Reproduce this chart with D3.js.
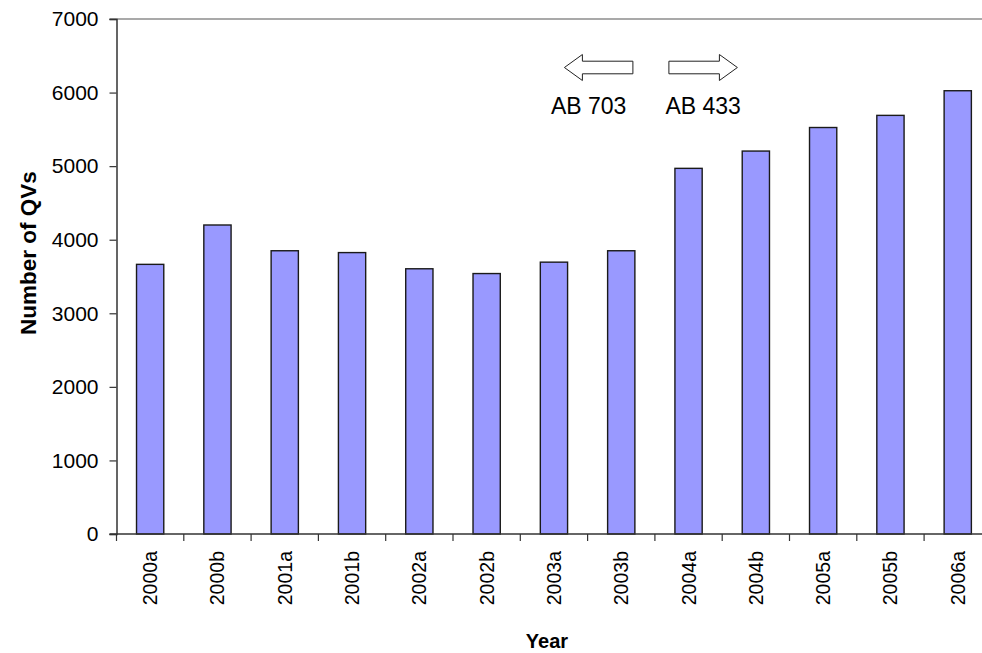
<!DOCTYPE html>
<html>
<head>
<meta charset="utf-8">
<script src="https://cdn.jsdelivr.net/npm/d3@7"></script>
<style>
  html, body { margin: 0; padding: 0; background: #fff; }
  svg { display: block; }
  text { font-family: "Liberation Sans", Arial, sans-serif; fill: #000; }
</style>
</head>
<body>
<svg id="chart" width="982" height="653"></svg>
<script>
// Semester labels and number of QVs per semester
const periods = ["2000a", "2000b", "2001a", "2001b", "2002a", "2002b", "2003a",
                 "2003b", "2004a", "2004b", "2005a", "2005b", "2006a"];
const qvCounts = [3665, 4200, 3850, 3825, 3605, 3540, 3695,
                  3850, 4970, 5205, 5525, 5690, 6025];
const yTicks = [0, 1000, 2000, 3000, 4000, 5000, 6000, 7000];
const yTitle = "Number of QVs";
const xTitle = "Year";
// Legislation markers: direction and label
const markers = [
  { dir: -1, label: "AB 703" },
  { dir: 1, label: "AB 433" }
];

const svg = d3.select("#chart");
const plotLeft = 116.5, plotTop = 19, plotBottom = 534;
const step = 67.3;

const x = d3.scaleBand()
  .domain(periods)
  .range([plotLeft, plotLeft + step * periods.length])
  .paddingInner(0).paddingOuter(0);
const y = d3.scaleLinear().domain([0, 7000]).range([plotBottom, plotTop]);

const barW = x.bandwidth() * 0.405;
const tickFont = 21;
const catFont = 19.5;
const titleFont = 22.5;
const noteFont = 23;

// Plot-area top border
svg.append("line")
  .attr("x1", plotLeft - 7).attr("x2", 982)
  .attr("y1", y(7000)).attr("y2", y(7000))
  .attr("stroke", "#8c8c8c").attr("stroke-width", 1.5);

// Bars
svg.append("g").selectAll("rect")
  .data(periods.map((p, i) => ({ p, v: qvCounts[i] })))
  .join("rect")
  .attr("x", d => x(d.p) + (x.bandwidth() - barW) / 2)
  .attr("y", d => y(d.v))
  .attr("width", barW)
  .attr("height", d => y(0) - y(d.v))
  .attr("fill", "#9999ff")
  .attr("stroke", "#1a1a1a")
  .attr("stroke-width", 1.4);

// Y axis
const yAxis = svg.append("g")
  .attr("transform", `translate(${plotLeft},0)`)
  .call(d3.axisLeft(y).tickValues(yTicks).tickFormat(d3.format("d")).tickSize(7).tickPadding(11));
yAxis.select(".domain").attr("stroke", "#333").attr("stroke-width", 1.5);
yAxis.selectAll(".tick line").attr("stroke", "#333").attr("stroke-width", 1.2);
yAxis.selectAll(".tick text")
  .style("font-family", "'Liberation Sans', Arial, sans-serif")
  .style("font-size", tickFont + "px").attr("fill", "#000");

// X axis: ticks at band boundaries
const xAxisG = svg.append("g");
xAxisG.append("line")
  .attr("x1", plotLeft - 7).attr("x2", 982)
  .attr("y1", plotBottom).attr("y2", plotBottom)
  .attr("stroke", "#333").attr("stroke-width", 1.5);
xAxisG.selectAll("line.tk")
  .data(periods.concat(["__end"]))
  .join("line").attr("class", "tk")
  .attr("x1", (d, i) => plotLeft + i * x.step())
  .attr("x2", (d, i) => plotLeft + i * x.step())
  .attr("y1", plotBottom).attr("y2", plotBottom + 7)
  .attr("stroke", "#333").attr("stroke-width", 1.2);
xAxisG.selectAll("text")
  .data(periods)
  .join("text")
  .attr("transform", d => `translate(${x(d) + x.bandwidth() / 2 + catFont * 0.36},${plotBottom + 17}) rotate(-90)`)
  .attr("text-anchor", "end")
  .style("font-size", catFont + "px")
  .text(d => d);

// Axis titles
svg.append("text")
  .attr("x", 547).attr("y", 648)
  .attr("text-anchor", "middle")
  .style("font-size", "20px").style("font-weight", "bold")
  .text(xTitle);
svg.append("text")
  .attr("transform", "translate(36,253) rotate(-90)")
  .attr("text-anchor", "middle")
  .style("font-size", titleFont + "px").style("font-weight", "bold")
  .text(yTitle);

// Block arrows with labels around the 2003b/2004a boundary
const boundary = plotLeft + 8 * x.step() - 4;
const arrowLen = 68.5, headLen = 18, bodyHalf = 6.3, headHalf = 13, gap = 18;
const arrowY = 67.5;
markers.forEach(m => {
  const base = boundary + m.dir * gap;          // flat end of the arrow
  const tip = base + m.dir * arrowLen;
  const neck = tip - m.dir * headLen;
  const pts = [
    [base, arrowY - bodyHalf], [neck, arrowY - bodyHalf], [neck, arrowY - headHalf],
    [tip, arrowY], [neck, arrowY + headHalf], [neck, arrowY + bodyHalf], [base, arrowY + bodyHalf]
  ];
  svg.append("path")
    .attr("d", d3.line()(pts) + "Z")
    .attr("fill", "#fff").attr("stroke", "#222").attr("stroke-width", 1);
  const mid = (base + tip) / 2;
  svg.append("text")
    .attr("x", m.dir < 0 ? mid - 10 : mid)
    .attr("y", 114)
    .attr("text-anchor", "middle")
    .style("font-size", noteFont + "px")
    .text(m.label);
});
</script>
</body>
</html>
